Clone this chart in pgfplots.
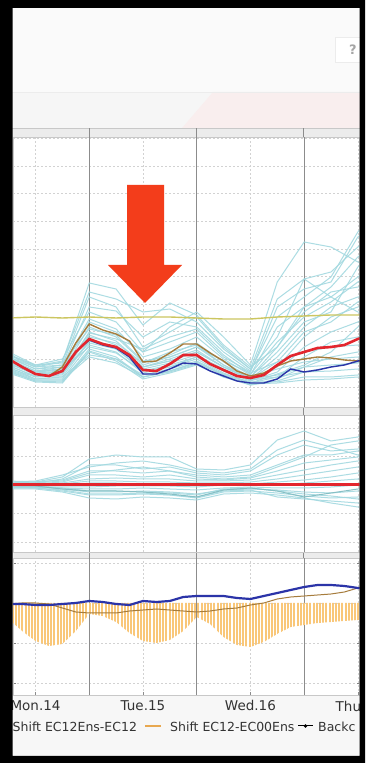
\documentclass[border=0pt]{standalone}
\usepackage{fontspec}
\setmainfont{DejaVu Sans}
\usepackage{pgfplots}
\pgfplotsset{compat=1.18}
\usepackage{pgfplotstable}
\usetikzlibrary{patterns.meta}

\definecolor{ens}{HTML}{A3D9E0}
\definecolor{ensdark}{HTML}{86BFC4}
\definecolor{redl}{HTML}{E3262E}
\definecolor{bluel}{HTML}{2B34A8}
\definecolor{brownl}{HTML}{A67C3C}
\definecolor{olivel}{HTML}{CCC660}
\definecolor{barorange}{HTML}{F9C779}
\definecolor{gridc}{HTML}{D2D2D2}
\definecolor{daylin}{HTML}{8C8C8C}
\definecolor{frameg}{HTML}{C8C8C8}
\definecolor{arrowred}{HTML}{F33D1B}
\definecolor{bgc}{HTML}{F7F7F7}
\definecolor{topc}{HTML}{FAFAFA}
\definecolor{bandl}{HTML}{F6F6F6}
\definecolor{bandr}{HTML}{F9EEEE}
\definecolor{stripc}{HTML}{ECECEC}
\definecolor{txt}{HTML}{333333}
\definecolor{legorange}{HTML}{E8A850}

% panel 1: ensemble members (h = hours from Mon.14 00:00)
\pgfplotstableread{
h m1 m2 m3 m4 m5 m6 m7 m8 m9 m10 m11 m12 m13 m14 m15 m16 m17 m18 m19 m20 m21 m22 m23 m24
6 52 45 50 55 48 46 44 42 40 38 36 34 50 52 47 43 39 37 45 41 49 35 53 44
12 40 35 38 42 36 34 32 30 28 28 26 25 40 42 36 33 30 27 35 31 38 26 41 33
18 45 38 42 48 40 36 34 32 30 28 26 24 42 44 38 35 30 27 37 33 40 25 46 35
24 124 85 110 95 88 80 75 72 66 62 58 55 68 78 60 64 52 50 70 66 100 56 115 74
30 118 75 100 85 78 70 66 62 58 55 50 46 60 72 54 58 48 44 64 60 96 48 108 68
36 82 55 60 55 50 45 42 40 36 34 30 28 40 46 36 38 32 30 44 40 70 30 95 58
42 104 80 75 65 58 52 50 46 42 40 36 34 46 50 40 44 38 35 55 48 85 36 98 70
48 92 95 90 75 70 64 60 55 50 48 44 42 55 60 50 52 46 43 62 57 80 45 85 78
54 62 70 60 50 48 45 42 40 36 34 32 30 40 46 36 38 33 30 42 40 55 32 58 52
60 40 42 38 35 32 30 28 27 26 24 22 22 30 34 28 27 25 23 30 28 36 24 38 33
66 60 125 70 100 80 60 50 40 35 30 28 26 38 45 32 30 25 24 55 45 90 33 108 65
72 100 165 128 118 100 95 80 70 60 50 40 35 45 55 40 35 30 27 85 75 110 42 128 90
78 120 160 135 125 110 115 100 90 75 65 50 40 48 60 42 36 30 28 95 85 130 55 110 105
84 150 145 160 170 130 120 110 100 85 70 55 45 50 62 44 38 32 30 140 105 175 80 95 125
90 170 140 175 190 150 125 115 105 95 80 60 48 55 65 46 40 35 32 160 115 200 100 90 135
}\ensA

% panel 1: main lines
\pgfplotstableread{
h red brown blue
6 48 48 48
9 40 40 40
12 33 33 33
15 31 31 31
18 36 40 36
21 55 64 55
24 68 83 67
27 63 77 62
30 60 73 59
33 52 66 50
36 37 45 33
39 36 46 33
42 43 54 38
45 52 63 44
48 52 63 43
51 43 54 36
54 37 46 31
57 31 36 26
60 29 31 24
63 32 34 24
66 42 41 28
69 51 46 38
72 55 48 35
75 59 50 37
78 60 49 40
81 62 47 42
84 68 46 46
87 72 45 48
}\mainA

\pgfplotstableread{
h y
6 89
12 90
18 89
24 90
30 89
36 90
42 90
48 89
54 88
60 88
66 90
72 91
78 92
84 92
90 92
}\oliveA

% panel 2: deviations of members
\pgfplotstableread{
h p1 p2 p3 p4 p5 p6 p7 p8 p9 p10 p11 p12 p13 p14 p15 p16 pd
6 2 3 4 1 2 0 -1 -2 -2 -3 -3 -4 -2 3 1 0 -1
12 3 2 3 1 1 0 -1 -2 -2 -2 -3 -4 -3 4 2 -1 -1
18 8 6 5 3 2 1 0 -2 -3 -4 -6 -7 -5 10 4 -3 -4
24 26 20 14 10 6 4 2 -2 -4 -7 -10 -13 -9 18 12 -6 -6
30 30 20 14 10 7 4 2 -1 -4 -7 -10 -14 -9 22 15 -6 -6
36 28 16 12 8 6 3 1 -1 -3 -6 -9 -12 -8 24 18 -7 -7
42 28 18 14 10 6 3 1 -1 -4 -7 -10 -13 -10 20 14 -8 -9
48 16 12 10 6 4 2 1 -2 -5 -9 -13 -15 -12 14 8 -10 -12
54 15 10 8 5 4 2 1 0 -3 -5 -7 -9 -6 12 6 -4 -5
60 20 14 10 7 5 3 1 0 -2 -4 -6 -8 -5 16 8 -3 -3
66 45 30 20 14 10 6 3 0 -3 -5 -8 -10 -12 35 18 -6 -6
72 54 40 30 22 15 10 5 2 -3 -7 -11 -13 -14 45 28 -9 -12
78 44 34 30 25 20 14 8 4 -2 -8 -13 -18 -16 38 40 -11 -8
84 48 36 34 28 24 18 12 6 0 -6 -12 -22 -18 30 44 -14 -4
90 58 40 38 30 26 20 14 8 2 -4 -10 -26 -20 25 46 -16 -2
}\ensB

% panel 3: shifts
\pgfplotstableread{
h blue brown bars
6 -1 -1 -16
9 -1 0 -28
12 -2 0 -38
15 -2 -1 -43
18 -1 -5 -41
21 0 -9 -28
24 2 -10 -11
27 1 -10 -13
30 -1 -10 -19
33 -2 -8 -30
36 2 -7 -38
39 1 -6 -40
42 2 -7 -37
45 6 -8 -28
48 7 -9 -14
51 7 -8 -21
54 7 -6 -34
57 5 -5 -42
60 4 -2 -44
63 7 0 -39
66 10 4 -31
69 13 6 -24
72 16 7 -22
75 18 8 -20
78 18 9 -19
81 17 11 -18
84 15 15 -17
87 15 17 -17
}\shiftC

\pgfplotsset{
  panel/.style={
    scale only axis, width=346.5pt, xmin=6.97, xmax=84.37,
    axis background/.style={fill=white},
    axis line style={frameg, line width=0.8pt},
    xtick={12,36,60,84}, xticklabels={}, yticklabels={},
    major tick length=0pt,
    xmajorgrids, ymajorgrids,
    major grid style={gridc, line width=0.7pt, dash pattern=on 2pt off 2pt},
    extra x ticks={24,48,72}, extra x tick labels={},
    extra x tick style={major grid style={daylin, line width=0.8pt, solid}},
    clip=true,
  },
  member/.style={ens, line width=1pt, opacity=0.9, no marks},
}

\begin{document}
\begin{tikzpicture}[x=1pt,y=1pt]
\useasboundingbox (0,0) rectangle (365,763);
\fill[bgc] (0,0) rectangle (365,763);
\fill[topc] (12,671) rectangle (365,755);
\fill[bandl] (12,635) rectangle (365,671);
\fill[bandr] (182,635) -- (213,671) -- (365,671) -- (365,635) -- cycle;
\draw[stripc, line width=0.8pt] (12,671) -- (365,671);
\fill[stripc] (12,68) rectangle (365,635);
\draw[frameg, line width=0.6pt] (12,635) -- (365,635);
\foreach \xx in {89.14,196.42,303.7} \draw[daylin, line width=0.8pt] (\xx,68) -- (\xx,635);
% help box
\draw[fill=white, draw=stripc, line width=0.8pt] (335,701) rectangle (363,726);
\node[text=gray!70, font=\bfseries\fontsize{13}{15}\selectfont] at (353,713.5) {?};

% panel 1
\begin{axis}[panel, at={(13pt,356pt)}, anchor=south west, height=270pt,
  ymin=0, ymax=270, ytick={20,47.6,...,270}]
  \pgfplotsinvokeforeach{1,...,24}{\addplot[member] table[x=h, y=m#1]{\ensA};}
  \addplot[olivel, line width=1.4pt, no marks] table[x=h, y=y]{\oliveA};
  \addplot[brownl, line width=1.4pt, no marks] table[x=h, y=brown]{\mainA};
  \addplot[bluel, line width=1.4pt, no marks] table[x=h, y=blue]{\mainA};
  \addplot[redl, line width=2.6pt, no marks] table[x=h, y=red]{\mainA};
\end{axis}

% panel 2
\begin{axis}[panel, at={(13pt,211pt)}, anchor=south west, height=137pt,
  ymin=-67, ymax=70, ytick={-57,-28.5,0,28.5,57}]
  \pgfplotsinvokeforeach{1,...,16}{\addplot[member] table[x=h, y=p#1]{\ensB};}
  \addplot[ensdark, line width=1pt, no marks] table[x=h, y=pd]{\ensB};
  \addplot[redl, line width=3pt, no marks] coordinates {(6,0) (90,0)};
\end{axis}

% panel 3
\begin{axis}[panel, at={(13pt,68pt)}, anchor=south west, height=137pt,
  ymin=-92, ymax=45, ytick={-80,-40,0,40},
  xticklabels={Mon.14,Tue.15,Wed.16,{}},
  xtick pos=left, major tick length=3pt, xtick style={draw=daylin}, tick align=inside,
  extra x tick style={major tick length=0pt},
  xticklabel style={text=txt, font=\fontsize{13.5}{15}\selectfont, yshift=-2pt}]
  \addplot[draw=none, pattern={Lines[angle=90, distance=3.2pt, line width=2pt]},
    pattern color=barorange] table[x=h, y=bars]{\shiftC} \closedcycle;
  \addplot[brownl, line width=1pt, no marks] table[x=h, y=brown]{\shiftC};
  \addplot[bluel, line width=2.2pt, no marks] table[x=h, y=blue]{\shiftC};
\end{axis}
\node[anchor=base west, inner sep=0pt, text=txt, font=\fontsize{13.5}{15}\selectfont] at (335.5,51.5) {Thu};

% annotation arrow
\fill[arrowred] (127,578) -- (164,578) -- (164,498) -- (182,498) -- (145,460) -- (108,498) -- (127,498) -- cycle;

% legend
\begin{scope}[every node/.style={anchor=west, inner sep=0pt, text=txt, font=\fontsize{12.5}{14}\selectfont}]
  \node at (12.5,36) {Shift EC12Ens-EC12};
  \draw[legorange, line width=1.2pt] (145,37) -- (161,37);
  \node at (170,36) {Shift EC12-EC00Ens};
  \draw[black, line width=1pt] (298,37) -- (313,37);
  \fill[black] (305.5,37) circle (1.8);
  \node at (318,36) {Backc};
\end{scope}

% black frame
\fill[black, even odd rule] (0,0) rectangle (365,763) (12.7,7) rectangle (359.5,755);
\end{tikzpicture}
\end{document}
